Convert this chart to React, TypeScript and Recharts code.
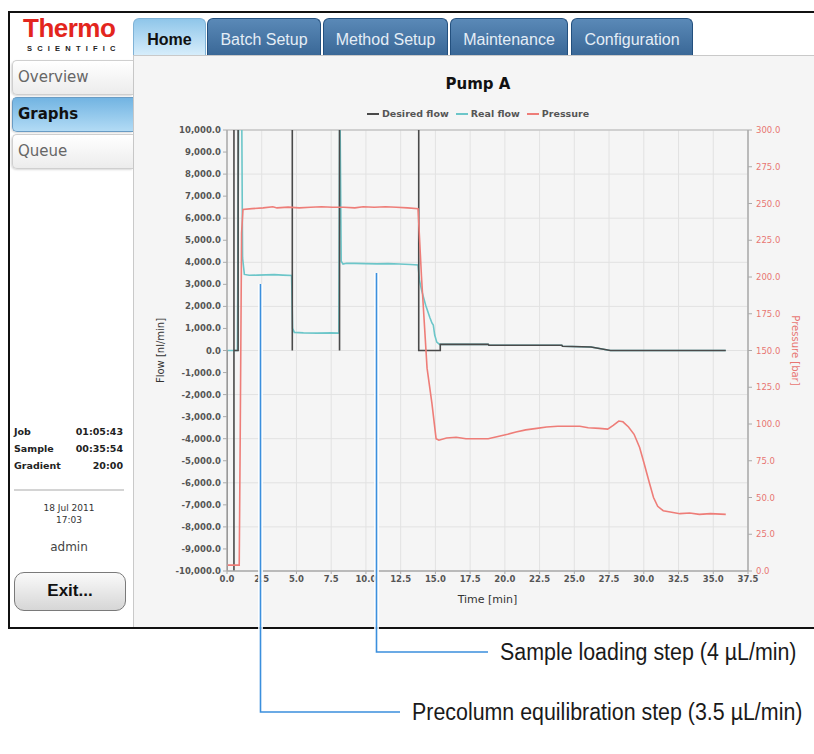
import { LineChart, Line, XAxis, YAxis, CartesianGrid, ReferenceLine } from 'recharts';

// time [min] / value pairs
const desiredTime = [0, 0, 0.5, 0.5, 0.5, 0.8, 0.8, 4.7, 4.7, 4.7, 8.1, 8.1, 8.1, 13.8, 13.8, 15.35, 15.35, 18.8, 18.85, 24.1, 24.15, 26.2, 27.6, 35.9];
const desiredFlow = [0, -12000, -12000, 12000, 0, 0, 12000, 12000, 0, 12000, 12000, 0, 12000, 12000, 0, 0, 280, 280, 240, 240, 190, 160, 0, 0];

const realTime = [0, 0.75, 0.85, 1.05, 1.12, 1.25, 1.6, 2.2, 2.8, 3.4, 4.0, 4.65, 4.72, 4.85, 5.5, 6.5, 7.5, 8.05, 8.12, 8.22, 8.35, 8.6, 9.2, 10, 10.8, 11.6, 12.4, 13.2, 13.75, 13.85, 14.0, 14.3, 14.6, 14.75, 14.85, 14.95, 15.1, 15.3, 18.8, 18.85, 24.1, 24.15, 26.2, 27.6, 35.9];
const realFlow = [0, 0, 12000, 12000, 4200, 3450, 3410, 3420, 3430, 3440, 3420, 3400, 1000, 820, 800, 790, 800, 790, 12000, 4050, 3920, 3960, 3950, 3940, 3930, 3940, 3920, 3900, 3880, 3200, 2750, 2050, 1500, 1250, 1150, 700, 380, 280, 280, 240, 240, 190, 160, 0, 0];

const pressureTime = [0, 0.88, 0.95, 1.05, 1.15, 1.8, 2.6, 3.3, 3.6, 4.4, 5.2, 6.0, 6.8, 7.6, 8.4, 9.2, 9.8, 10.6, 11.4, 12.2, 13.0, 13.75, 14.0, 14.4, 14.75, 15.05, 15.25, 15.8, 16.5, 17.2, 18.0, 18.8, 19.5, 20.2, 20.8, 21.5, 22.3, 23.0, 23.8, 24.6, 25.4, 26.0, 26.8, 27.4, 27.8, 28.2, 28.5, 28.9, 29.3, 29.7, 30.0, 30.4, 30.7, 31.0, 31.4, 32.0, 32.6, 33.3, 34.0, 34.8, 35.9];
const pressureBar = [4, 4, 90, 230, 246, 246.5, 247, 247.8, 247, 247.5, 247, 247.5, 247.8, 247.5, 247.5, 247, 247.8, 247.5, 247.8, 247.5, 247, 246.5, 200, 138, 114, 90, 89, 90.5, 91, 90, 90, 90, 91.5, 93, 94.5, 96, 97, 98, 98.5, 98.5, 98.5, 97.5, 97, 96.5, 99, 102, 101.5, 98, 93, 84, 74, 60, 50, 44, 41, 40, 39, 39.5, 38.5, 39, 38.5];

const timeTicks = [0, 2.5, 5, 7.5, 10, 12.5, 15, 17.5, 20, 22.5, 25, 27.5, 30, 32.5, 35, 37.5];
const flowTicks = [-10000, -9000, -8000, -7000, -6000, -5000, -4000, -3000, -2000, -1000, 0, 1000, 2000, 3000, 4000, 5000, 6000, 7000, 8000, 9000, 10000];
const pressureTicks = [0, 25, 50, 75, 100, 125, 150, 175, 200, 225, 250, 275, 300];

const seriesNames = ['Desired flow', 'Real flow', 'Pressure'];
const seriesColors = ['#4a4a4a', '#6cc6c9', '#ee7d78'];

const tabs = ['Home', 'Batch Setup', 'Method Setup', 'Maintenance', 'Configuration'];
const tabLeft = [133, 207, 323, 450, 571];
const tabWidth = [73, 114, 125, 118, 122];

const desiredData = desiredTime.map((t, i) => ({ t, v: desiredFlow[i] }));
const realData = realTime.map((t, i) => ({ t, v: realFlow[i] }));
const pressureData = pressureTime.map((t, i) => ({ t, p: pressureBar[i] }));

const tickFont = { fontFamily: 'DejaVu Sans', fontSize: 8.5, fontWeight: 'bold' as const };
const ui = 'Liberation Sans, Arial, sans-serif';

const fmtFlow = (v: number) => v.toLocaleString('en-US', { minimumFractionDigits: 1, maximumFractionDigits: 1 });

function SideButton({ top, label, active }: { top: number; label: string; active?: boolean }) {
  return (
    <div
      style={{
        position: 'absolute', left: 12, top, width: 121, height: 35, boxSizing: 'border-box',
        border: '1px solid ' + (active ? '#6a9cc4' : '#cfcfcf'), borderRight: 'none',
        borderRadius: '5px 0 0 5px',
        background: active ? 'linear-gradient(#72b4e2, #b2dbf5)' : 'linear-gradient(#ffffff, #ececec)',
        boxShadow: '-1px 1px 2px rgba(0,0,0,0.15)',
        fontFamily: 'DejaVu Sans', fontSize: 15, fontWeight: active ? 'bold' : 'normal',
        color: active ? '#111' : '#666', lineHeight: '33px', paddingLeft: 5,
      }}
    >
      {label}
    </div>
  );
}

const callout = {
  position: 'absolute' as const, fontFamily: ui, fontSize: 23, lineHeight: '26px', color: '#1a1a1a',
  whiteSpace: 'nowrap' as const, transform: 'scaleX(0.93)', transformOrigin: 'left center',
};

export default function App() {
  return (
    <div style={{ position: 'absolute', left: 0, top: 0, width: 814, height: 754, overflow: 'hidden', background: '#fff' }}>
      {/* frame of the instrument screen */}
      <div style={{ position: 'absolute', left: 8, top: 11, width: 830, height: 618, boxSizing: 'border-box', border: '2px solid #111', background: '#fff' }} />

      {/* logo */}
      <div style={{ position: 'absolute', left: 23, top: 15, fontFamily: ui, fontWeight: 'bold', fontSize: 26, lineHeight: '26px', color: '#e3251d', letterSpacing: -0.5 }}>Thermo</div>
      <div style={{ position: 'absolute', left: 27, top: 45, fontFamily: ui, fontWeight: 'bold', fontSize: 7.5, lineHeight: '8px', color: '#222', letterSpacing: 5.2 }}>SCIENTIFIC</div>

      {/* tabs */}
      {tabs.map((name, i) => (
        <div
          key={name}
          style={{
            position: 'absolute', left: tabLeft[i], top: 18, width: tabWidth[i], height: 37, boxSizing: 'border-box',
            borderRadius: '6px 6px 0 0', border: '1px solid ' + (i === 0 ? '#7fb2d6' : '#23507e'), borderBottom: 'none',
            background: i === 0 ? 'linear-gradient(#8fc6ea, #d6edfb)' : 'linear-gradient(#5a89b7, #3a6897)',
            color: i === 0 ? '#111' : '#e4edf6', fontFamily: ui, fontSize: 16, fontWeight: i === 0 ? 'bold' : 'normal',
            textAlign: 'center', lineHeight: '41px',
          }}
        >
          {name}
        </div>
      ))}

      {/* content panel */}
      <div style={{ position: 'absolute', left: 133, top: 55, width: 700, height: 572, boxSizing: 'border-box', background: '#f5f5f5', borderTop: '1px solid #c9c9c9', borderLeft: '1px solid #c9c9c9' }} />

      {/* side menu */}
      <SideButton top={60} label="Overview" />
      <SideButton top={97} label="Graphs" active />
      <SideButton top={134} label="Queue" />

      <div style={{ position: 'absolute', left: 14, top: 423, width: 109, fontFamily: 'DejaVu Sans', fontSize: 9.5, fontWeight: 'bold', color: '#222', lineHeight: '17px' }}>
        {[['Job', '01:05:43'], ['Sample', '00:35:54'], ['Gradient', '20:00']].map(([a, b]) => (
          <div key={a} style={{ display: 'flex', justifyContent: 'space-between' }}>
            <span>{a}</span>
            <span>{b}</span>
          </div>
        ))}
      </div>
      <div style={{ position: 'absolute', left: 14, top: 489, width: 110, height: 2, background: '#d4d4d4' }} />
      <div style={{ position: 'absolute', left: 14, top: 502, width: 110, textAlign: 'center', fontFamily: 'DejaVu Sans', fontSize: 9, color: '#333', lineHeight: '12px' }}>
        18 Jul 2011<br />17:03
      </div>
      <div style={{ position: 'absolute', left: 14, top: 540, width: 110, textAlign: 'center', fontFamily: 'DejaVu Sans', fontSize: 12, color: '#444' }}>admin</div>
      <div
        style={{
          position: 'absolute', left: 14, top: 572, width: 112, height: 39, boxSizing: 'border-box',
          border: '1.5px solid #7a7a7a', borderRadius: 10, background: 'linear-gradient(#fafafa, #d6d6d6)',
          fontFamily: ui, fontWeight: 'bold', fontSize: 17, textAlign: 'center', lineHeight: '36px', color: '#111',
        }}
      >
        Exit...
      </div>

      {/* chart title + legend */}
      <div style={{ position: 'absolute', left: 378, top: 75, width: 200, textAlign: 'center', fontFamily: 'DejaVu Sans', fontWeight: 'bold', fontSize: 15, color: '#111' }}>Pump A</div>
      <div style={{ position: 'absolute', left: 328, top: 108, width: 300, display: 'flex', justifyContent: 'center', gap: 7, fontFamily: 'DejaVu Sans', fontWeight: 'bold', fontSize: 9.5, color: '#555' }}>
        {seriesNames.map((n, i) => (
          <div key={n} style={{ display: 'flex', alignItems: 'center', gap: 3 }}>
            <div style={{ width: 12, height: 2, background: seriesColors[i] }} />
            <span>{n}</span>
          </div>
        ))}
      </div>

      <div style={{ position: 'absolute', left: 140, top: 100 }}>
        <LineChart width={674} height={520} margin={{ top: 30, right: 6, bottom: 14, left: 12 }}>
          <CartesianGrid stroke="#e2e2e2" strokeWidth={1} yAxisId="flow" />
          <XAxis
            dataKey="t"
            type="number"
            domain={[0, 37.5]}
            ticks={timeTicks}
            allowDataOverflow
            height={35}
            tickFormatter={(v: number) => v.toFixed(1)}
            tick={{ ...tickFont, fill: '#555' }}
            tickSize={3}
            tickMargin={2}
            axisLine={{ stroke: '#aaa', strokeWidth: 1.5 }}
            tickLine={{ stroke: '#aaa' }}
            label={{ value: 'Time [min]', position: 'insideBottom', offset: 3, style: { fontFamily: 'DejaVu Sans', fontSize: 11, fill: '#333' } }}
          />
          <YAxis
            yAxisId="flow"
            dataKey="v"
            domain={[-10000, 10000]}
            ticks={flowTicks}
            allowDataOverflow
            width={75}
            tickFormatter={fmtFlow}
            tick={{ ...tickFont, fill: '#555' }}
            tickSize={4}
            tickMargin={2}
            axisLine={{ stroke: '#aaa', strokeWidth: 1.5 }}
            tickLine={{ stroke: '#aaa' }}
            label={{ value: 'Flow [nl/min]', angle: -90, position: 'insideLeft', offset: 8, style: { textAnchor: 'middle', fontFamily: 'DejaVu Sans', fontSize: 10, fill: '#333' } }}
          />
          <YAxis
            yAxisId="pressure"
            orientation="right"
            dataKey="p"
            domain={[0, 300]}
            ticks={pressureTicks}
            allowDataOverflow
            width={60}
            tickFormatter={(v: number) => v.toFixed(1)}
            tick={{ fontFamily: 'DejaVu Sans', fontSize: 8.5, fill: '#e87672' }}
            tickSize={4}
            tickMargin={4}
            axisLine={{ stroke: '#aaa', strokeWidth: 1.5 }}
            tickLine={{ stroke: '#aaa' }}
            label={{ value: 'Pressure [bar]', angle: 90, position: 'insideRight', offset: 12, style: { textAnchor: 'middle', fontFamily: 'DejaVu Sans', fontSize: 10, fill: '#e87672' } }}
          />
          <ReferenceLine yAxisId="flow" y={10000} stroke="#b5b5b5" strokeWidth={1} />
          <Line yAxisId="flow" data={realData} dataKey="v" name={seriesNames[1]} stroke={seriesColors[1]} strokeWidth={1.6} dot={false} isAnimationActive={false} />
          <Line yAxisId="flow" data={desiredData} dataKey="v" name={seriesNames[0]} stroke={seriesColors[0]} strokeWidth={1.6} dot={false} isAnimationActive={false} />
          <Line yAxisId="pressure" data={pressureData} dataKey="p" name={seriesNames[2]} stroke={seriesColors[2]} strokeWidth={1.6} dot={false} isAnimationActive={false} />
        </LineChart>
      </div>

      {/* callouts */}
      <svg width={814} height={754} style={{ position: 'absolute', left: 0, top: 0, pointerEvents: 'none' }}>
        <path d="M260.5 284 V712 H400" fill="none" stroke="#fff" strokeWidth={5} strokeOpacity={0.85} />
        <path d="M376.5 273 V652 H488" fill="none" stroke="#fff" strokeWidth={5} strokeOpacity={0.85} />
        <path d="M260.5 284 V712 H400" fill="none" stroke="#3b8fdd" strokeWidth={1.6} />
        <path d="M376.5 273 V652 H488" fill="none" stroke="#3b8fdd" strokeWidth={1.6} />
      </svg>
      <div style={{ ...callout, left: 500, top: 639 }}>Sample loading step (4 µL/min)</div>
      <div style={{ ...callout, left: 412, top: 699 }}>Precolumn equilibration step (3.5 µL/min)</div>
    </div>
  );
}
